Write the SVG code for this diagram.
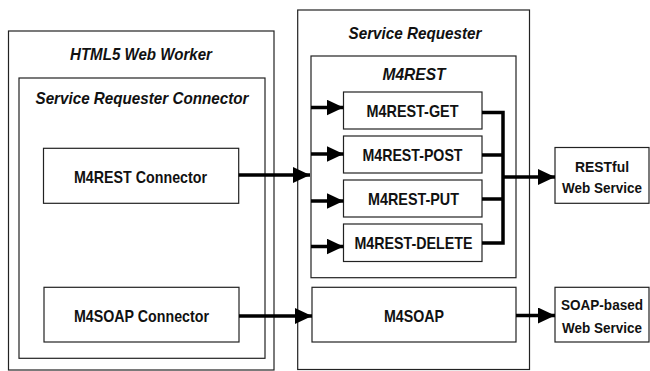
<svg xmlns="http://www.w3.org/2000/svg" width="650" height="371" viewBox="0 0 650 371">
  <style>
    .box { fill: #ffffff; stroke: #222222; stroke-width: 1.2; }
    .lbl { font-family: "Liberation Sans", Arial, Helvetica, sans-serif; font-weight: bold; font-size: 17px; fill: #111111; text-anchor: middle; }
    .ext { font-size: 15px; }
    .ttl { font-style: italic; }
    .wire { fill: none; stroke: #000000; stroke-width: 3.5; stroke-linejoin: miter; stroke-linecap: butt; }
  </style>
  <defs>
    <marker id="head" markerUnits="userSpaceOnUse" markerWidth="18" markerHeight="16" refX="17" refY="8" orient="auto">
      <path d="M0,0 L17,8 L0,16 Z" fill="#000000"/>
    </marker>
  </defs>

  <rect width="650" height="371" fill="#ffffff"/>

  <!-- worker side -->
  <g id="web-worker">
    <rect class="box" x="8.5" y="31" width="265.5" height="339"/>
    <text class="lbl ttl" x="141" y="60" textLength="142" lengthAdjust="spacingAndGlyphs">HTML5 Web Worker</text>
  </g>
  <g id="requester-connector">
    <rect class="box" x="19" y="78" width="246" height="280.3"/>
    <text class="lbl ttl" x="142" y="103.5" textLength="213" lengthAdjust="spacingAndGlyphs">Service Requester Connector</text>
  </g>
  <g id="m4rest-connector">
    <rect class="box" x="43.5" y="148.3" width="195.2" height="55"/>
    <text class="lbl" x="140.5" y="182.5" textLength="133" lengthAdjust="spacingAndGlyphs">M4REST Connector</text>
  </g>
  <g id="m4soap-connector">
    <rect class="box" x="44" y="287.3" width="195" height="54.7"/>
    <text class="lbl" x="141.5" y="321.5" textLength="135" lengthAdjust="spacingAndGlyphs">M4SOAP Connector</text>
  </g>

  <!-- requester side -->
  <g id="service-requester">
    <rect class="box" x="297.7" y="10" width="231.8" height="359.5"/>
    <text class="lbl ttl" x="415" y="38.5" textLength="133" lengthAdjust="spacingAndGlyphs">Service Requester</text>
  </g>
  <g id="m4rest">
    <rect class="box" x="311" y="56" width="205" height="221.7"/>
    <text class="lbl ttl" x="414" y="80" textLength="63" lengthAdjust="spacingAndGlyphs">M4REST</text>
  </g>
  <g id="m4rest-get">
    <rect class="box" x="343.5" y="92" width="138.5" height="37"/>
    <text class="lbl" x="412.5" y="117" textLength="92" lengthAdjust="spacingAndGlyphs">M4REST-GET</text>
  </g>
  <g id="m4rest-post">
    <rect class="box" x="343.5" y="136" width="138.5" height="37"/>
    <text class="lbl" x="412.5" y="160.5" textLength="100" lengthAdjust="spacingAndGlyphs">M4REST-POST</text>
  </g>
  <g id="m4rest-put">
    <rect class="box" x="343.5" y="180" width="138.5" height="37"/>
    <text class="lbl" x="413.5" y="204.5" textLength="91" lengthAdjust="spacingAndGlyphs">M4REST-PUT</text>
  </g>
  <g id="m4rest-delete">
    <rect class="box" x="343.5" y="224" width="138.5" height="37.5"/>
    <text class="lbl" x="413.5" y="248.5" textLength="118" lengthAdjust="spacingAndGlyphs">M4REST-DELETE</text>
  </g>
  <g id="m4soap">
    <rect class="box" x="312" y="287.3" width="204" height="54.7"/>
    <text class="lbl" x="414" y="321.5" textLength="60" lengthAdjust="spacingAndGlyphs">M4SOAP</text>
  </g>

  <!-- remote services -->
  <g id="restful-service">
    <rect class="box" x="555" y="147.5" width="94" height="55.8"/>
    <text class="lbl ext" x="602" y="171.5" textLength="54" lengthAdjust="spacingAndGlyphs">RESTful</text>
    <text class="lbl ext" x="602" y="193.3" textLength="80" lengthAdjust="spacingAndGlyphs">Web Service</text>
  </g>
  <g id="soap-service">
    <rect class="box" x="555" y="287.3" width="94" height="54.7"/>
    <text class="lbl ext" x="602" y="309.5" font-size="14" style="font-size:14px" textLength="82" lengthAdjust="spacingAndGlyphs">SOAP-based</text>
    <text class="lbl ext" x="602" y="333" textLength="80" lengthAdjust="spacingAndGlyphs">Web Service</text>
  </g>

  <!-- connectors -->
  <g id="connectors">
    <path class="wire" d="M238.7,175 H310" marker-end="url(#head)"/>
    <path class="wire" d="M311,107.5 H343.5" marker-end="url(#head)"/>
    <path class="wire" d="M311,154 H343.5" marker-end="url(#head)"/>
    <path class="wire" d="M311,201 H343.5" marker-end="url(#head)"/>
    <path class="wire" d="M311,246.5 H343.5" marker-end="url(#head)"/>
    <path class="wire" d="M482,112.5 H503 V243 H482"/>
    <path class="wire" d="M482,155 H503"/>
    <path class="wire" d="M482,199 H503"/>
    <path class="wire" d="M503,177 H555" marker-end="url(#head)"/>
    <path class="wire" d="M239,316 H312" marker-end="url(#head)"/>
    <path class="wire" d="M516,315.5 H555" marker-end="url(#head)"/>
  </g>
</svg>
